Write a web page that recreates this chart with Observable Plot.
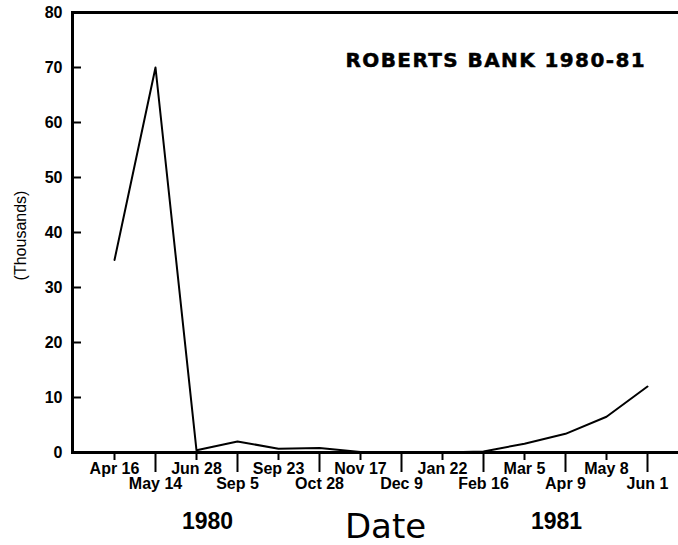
<!DOCTYPE html>
<html>
<head>
<meta charset="utf-8">
<script src="https://cdn.jsdelivr.net/npm/d3@7"></script>
<script src="https://cdn.jsdelivr.net/npm/@observablehq/plot@0.6"></script>
<style>
  body { margin: 0; background: #fff; }
</style>
</head>
<body>
<div id="chart"></div>
<script>
// Sampling dates, April 1980 to June 1981
const dates = ["Apr 16", "May 14", "Jun 28", "Sep 5", "Sep 23", "Oct 28", "Nov 17",
               "Dec 9", "Jan 22", "Feb 16", "Mar 5", "Apr 9", "May 8", "Jun 1"];
// Counts, in thousands
const counts = [35, 70, 0.4, 2.0, 0.7, 0.8, 0.1, 0, 0, 0.2, 1.6, 3.4, 6.5, 12];

const yTicks = [0, 10, 20, 30, 40, 50, 60, 70, 80];
const title = "ROBERTS BANK 1980-81";
const yLabel = "(Thousands)";
const xLabel = "Date";
const years = ["1980", "1981"];

// Tick labels alternate between an upper and a lower row
const upperRow = dates.filter((d, i) => i % 2 === 0);
const lowerRow = dates.filter((d, i) => i % 2 === 1);

const data = dates.map((date, i) => ({date, count: counts[i]}));

const W = 678, H = 545;
const marginLeft = 72, marginRight = 0;
const yTickLength = 9;

const chart = Plot.plot({
  width: W,
  height: H,
  marginLeft,
  marginTop: 12,
  marginRight,
  marginBottom: 93,
  style: {
    fontFamily: "'Liberation Sans', Arial, sans-serif",
    fontSize: "16px",
    fontWeight: "bold",
    color: "#000",
    background: "#fff"
  },
  x: {type: "point", domain: dates, range: [112, 649], padding: 0},
  y: {domain: [0, 80]},
  marks: [
    Plot.ruleY([0, 80], {strokeWidth: 3}),
    Plot.frame({anchor: "left", strokeWidth: 3}),
    // short inward ticks on the value axis
    Plot.ruleY(yTicks, {strokeWidth: 2, insetRight: W - marginLeft - marginRight - yTickLength}),
    Plot.axisY(yTicks, {tickSize: 0, tickPadding: 10, label: null, fontWeight: "bold", fontSize: 16}),
    Plot.axisX(upperRow, {tickSize: 8, tickPadding: 2, strokeWidth: 2, label: null, fontWeight: "bold"}),
    Plot.axisX(lowerRow, {tickSize: 20, tickPadding: 5, strokeWidth: 2, label: null, fontWeight: "bold"}),
    Plot.lineY(data, {x: "date", y: "count", strokeWidth: 2}),
    Plot.text([title], {
      frameAnchor: "top-left", dx: 273, dy: 54,
      textAnchor: "start", lineAnchor: "bottom",
      fontFamily: "'DejaVu Sans', sans-serif", fontSize: 20, fontWeight: "bold",
      fill: "#000", stroke: "#000", strokeWidth: 0.5
    }),
    Plot.text([yLabel], {
      frameAnchor: "left", dx: -52, dy: 3, rotate: -90,
      textAnchor: "middle", lineAnchor: "middle",
      fontSize: 16, fontWeight: "normal"
    }),
    Plot.text([years[0]], {
      frameAnchor: "bottom-left", dx: 135, dy: 76,
      textAnchor: "middle", lineAnchor: "bottom", fontSize: 23
    }),
    Plot.text([years[1]], {
      frameAnchor: "bottom-left", dx: 484, dy: 76,
      textAnchor: "middle", lineAnchor: "bottom", fontSize: 23
    }),
    Plot.text([xLabel], {
      frameAnchor: "bottom-left", dx: 313, dy: 85,
      textAnchor: "middle", lineAnchor: "bottom",
      fontFamily: "'DejaVu Sans', sans-serif", fontSize: 34, fontWeight: "normal"
    })
  ]
});

// The title is set in slightly spaced capitals
d3.select(chart).selectAll("text")
  .filter(function() { return this.textContent === title; })
  .style("letter-spacing", "1.4px");

document.getElementById("chart").append(chart);
</script>
</body>
</html>
